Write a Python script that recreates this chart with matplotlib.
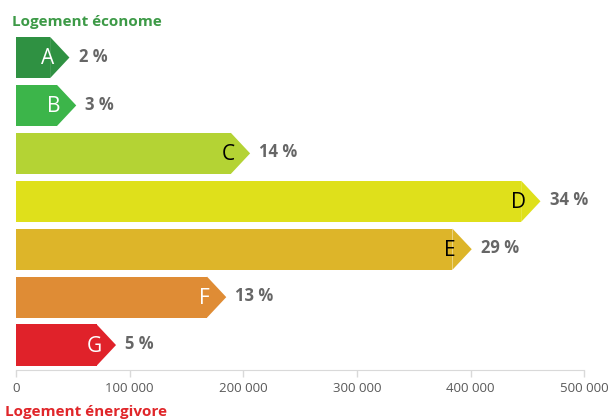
import matplotlib.pyplot as plt
import numpy as np

classes = ['A', 'B', 'C', 'D', 'E', 'F', 'G']
values = [30000, 36000, 189000, 444500, 384000, 168000, 71000]
pct_labels = ['2 %', '3 %', '14 %', '34 %', '29 %', '13 %', '5 %']
colors = ['#2f9142', '#3cb54a', '#b4d334', '#dfe01b', '#ddb529', '#df8c35', '#e0222a']
letter_colors = ['white', 'white', 'black', 'black', 'black', 'white', 'white']
xticks = [0, 100000, 200000, 300000, 400000, 500000]

plt.rcParams['font.family'] = ['Open Sans', 'DejaVu Sans']

fig = plt.figure(figsize=(6.11, 4.19), dpi=100)
ax = fig.add_axes([0.0262, 0.117, 0.930, 0.804])

tip = 17000
h = 0.86
y = np.arange(len(classes))
ax.barh(y, values, height=h, color=colors, edgecolor='none')
for i, v in enumerate(values):
    # arrow tip on the end of each bar
    ax.fill([v, v + tip, v], [i - h / 2, i, i + h / 2], color=colors[i], lw=0)
    ax.text(v - 2500, i + 0.03, classes[i], ha='center', va='center',
            fontsize=15, color=letter_colors[i])
    ax.text(v + tip + 8000, i - 0.02, pct_labels[i], ha='left', va='center',
            fontsize=12, fontweight='bold', color='#666666')

ax.set_xlim(0, 500000)
ax.set_ylim(6.52, -0.51)
ax.set_yticks([])
ax.set_xticks(xticks)
ax.set_xticklabels(['{:,}'.format(t).replace(',', ' ') for t in xticks])
ax.tick_params(axis='x', colors='#d9d9d9', labelcolor='#595959', labelsize=9.5,
               length=5, width=1)
for s in ['top', 'left', 'right']:
    ax.spines[s].set_visible(False)
ax.spines['bottom'].set_color('#d9d9d9')

fig.text(0.02, 0.948, 'Logement économe', color='#3d9a47', fontsize=11,
         fontweight='bold', ha='left', va='center')
fig.text(0.008, 0.017, 'Logement énergivore', color='#e0262a', fontsize=11,
         fontweight='bold', ha='left', va='center')

fig.savefig('out.png', dpi=100)
